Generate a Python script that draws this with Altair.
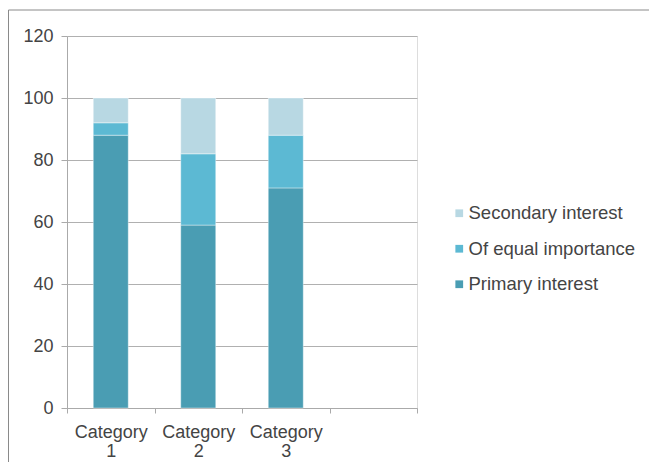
import altair as alt
import pandas as pd

categories = ["Category 1", "Category 2", "Category 3"]
axis_slots = ["Category 1", "Category 2", "Category 3", ""]
series = ["Secondary interest", "Of equal importance", "Primary interest"]
primary = [88, 59, 71]
equal = [4, 23, 17]
secondary = [8, 18, 12]
y_ticks = [0, 20, 40, 60, 80, 100, 120]
colors = ["#b8d8e3", "#5cb9d3", "#4a9db3"]

rows = []
for i, c in enumerate(categories):
    rows.append({"cat": c, "series": "Primary interest", "value": primary[i], "rank": 0})
    rows.append({"cat": c, "series": "Of equal importance", "value": equal[i], "rank": 1})
    rows.append({"cat": c, "series": "Secondary interest", "value": secondary[i], "rank": 2})
df = pd.DataFrame(rows)

FONT = "Liberation Sans"

bars = alt.Chart(df).mark_bar(size=35, stroke="#ffffff", strokeWidth=0.8, strokeOpacity=0.5).encode(
    x=alt.X("cat:N", scale=alt.Scale(domain=axis_slots, paddingInner=0, paddingOuter=0),
            axis=alt.Axis(title=None, labelAngle=0, tickBand="extent", labelExpr="split(datum.label, ' ')",
                          labelLineHeight=19, labelPadding=10, tickSize=5, domainColor="#aaaaaa",
                          tickColor="#aaaaaa", labelFontSize=18, labelColor="#444444", labelFont=FONT,
                          labelBaseline="top")),
    y=alt.Y("value:Q", stack="zero", scale=alt.Scale(domain=[0, 120], nice=False),
            axis=alt.Axis(title=None, values=y_ticks, grid=True, gridColor="#b0b0b0", tickSize=6,
                          labelPadding=8, domainColor="#aaaaaa", tickColor="#aaaaaa",
                          labelFontSize=18, labelColor="#444444", labelFont=FONT)),
    color=alt.Color("series:N", scale=alt.Scale(domain=series, range=colors),
                    legend=alt.Legend(title=None, orient="none", legendX=383, legendY=168,
                                      symbolType="square", symbolSize=60, symbolStrokeWidth=0,
                                      labelFontSize=18.5, labelColor="#444444", labelFont=FONT,
                                      labelLimit=400, rowPadding=16.5, labelOffset=0)),
    order=alt.Order("rank:Q", sort="ascending"),
)

frame_left = alt.Chart(alt.Data(values=[{}])).mark_rule(color="#8a8a8a", strokeWidth=1).encode(
    x=alt.value(-58.5), y=alt.value(-26), y2=alt.value(440)
)
frame_top = alt.Chart(alt.Data(values=[{}])).mark_rule(color="#8a8a8a", strokeWidth=1).encode(
    x=alt.value(-58.5), x2=alt.value(600), y=alt.value(-26)
)

chart = alt.layer(frame_left, frame_top, bars).properties(
    width=350, height=372, autosize="none",
    padding={"left": 59, "top": 28, "right": 232, "bottom": 54},
).configure_view(stroke=None).configure(background="white")

chart.save("out.html", embed_options={"renderer": "svg", "actions": False})
